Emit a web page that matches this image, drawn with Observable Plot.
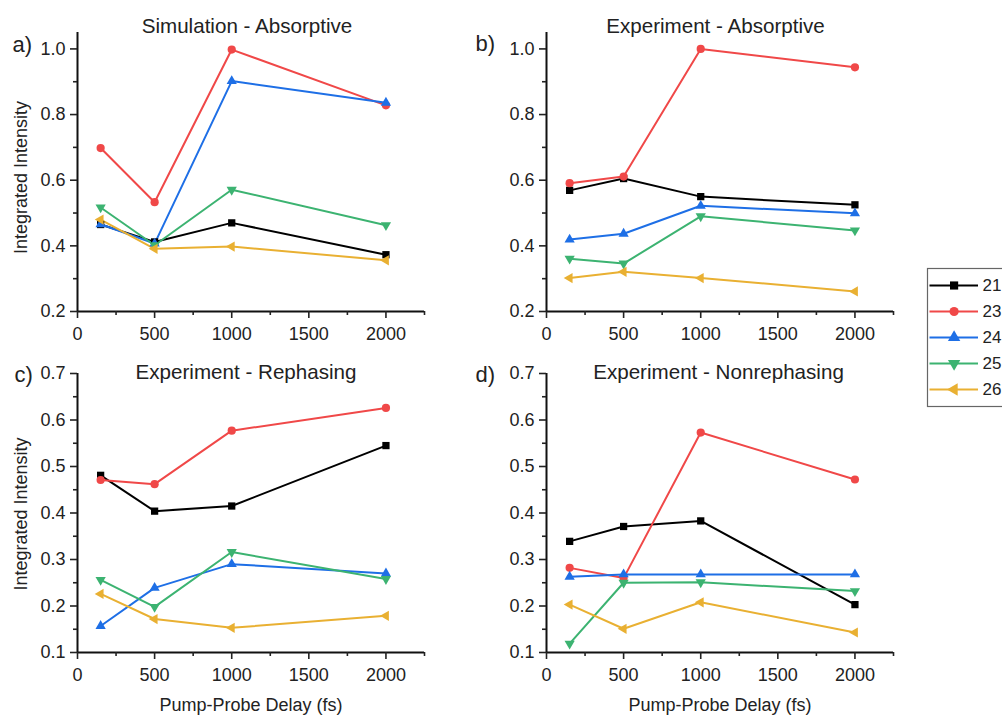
<!DOCTYPE html>
<html>
<head>
<meta charset="utf-8">
<script src="https://cdn.jsdelivr.net/npm/d3@7"></script>
<script src="https://cdn.jsdelivr.net/npm/@observablehq/plot@0.6"></script>
<style>
  html, body { margin: 0; padding: 0; background: #fff; overflow: hidden; }
  #root { position: relative; width: 1002px; height: 715px; overflow: hidden; font-family: "Liberation Sans", Arial, sans-serif; }
  .panel { position: absolute; }
  .panel svg { background: transparent !important; overflow: visible; max-width: none !important; }
</style>
</head>
<body>
<div id="root"></div>
<script>
// ---------- data ----------
const delays = [150, 500, 1000, 2000];
const seriesNames = ["21", "23", "24", "25", "26"];
const seriesColors = ["#000000", "#f04848", "#1e6fe6", "#3cb371", "#e9b032"];
const seriesSymbols = ["square", "circle", "triangle", "triangle", "triangle"];
const seriesRotate = [0, 0, 0, 180, -90];

// a) Simulation - Absorptive
const simAbs21 = [0.465, 0.412, 0.470, 0.373];
const simAbs23 = [0.698, 0.533, 0.998, 0.828];
const simAbs24 = [0.466, 0.407, 0.902, 0.836];
const simAbs25 = [0.517, 0.402, 0.571, 0.463];
const simAbs26 = [0.480, 0.391, 0.398, 0.356];

// b) Experiment - Absorptive
const expAbs21 = [0.569, 0.605, 0.550, 0.525];
const expAbs23 = [0.591, 0.611, 1.000, 0.944];
const expAbs24 = [0.419, 0.437, 0.522, 0.499];
const expAbs25 = [0.361, 0.346, 0.490, 0.447];
const expAbs26 = [0.302, 0.321, 0.302, 0.261];

// c) Experiment - Rephasing
const reph21 = [0.481, 0.404, 0.415, 0.545];
const reph23 = [0.471, 0.462, 0.577, 0.626];
const reph24 = [0.157, 0.239, 0.290, 0.270];
const reph25 = [0.256, 0.198, 0.316, 0.258];
const reph26 = [0.226, 0.172, 0.153, 0.179];

// d) Experiment - Nonrephasing
const nonreph21 = [0.339, 0.371, 0.383, 0.203];
const nonreph23 = [0.282, 0.260, 0.573, 0.472];
const nonreph24 = [0.263, 0.268, 0.268, 0.268];
const nonreph25 = [0.119, 0.250, 0.251, 0.232];
const nonreph26 = [0.203, 0.151, 0.208, 0.143];

// ticks
const xTicks = [0, 500, 1000, 1500, 2000];
const xMinorTicks = [250, 750, 1250, 1750, 2250];
const absTicks = [0.2, 0.4, 0.6, 0.8, 1.0];
const absMinorTicks = [0.3, 0.5, 0.7, 0.9];
const phaseTicks = [0.1, 0.2, 0.3, 0.4, 0.5, 0.6, 0.7];
const phaseMinorTicks = [0.15, 0.25, 0.35, 0.45, 0.55, 0.65];

const yLabel = "Integrated Intensity";
const xLabel = "Pump-Probe Delay (fs)";

// ---------- drawing ----------
const FONT = "Liberation Sans, Arial, sans-serif";
const root = document.getElementById("root");

function drawPanel(cfg) {
  const rows = [];
  cfg.values.forEach((vals, i) =>
    vals.forEach((v, j) => rows.push({series: seriesNames[i], delay: delays[j], value: v}))
  );
  const marks = [
    Plot.line(rows, {x: "delay", y: "value", z: "series", stroke: "series", strokeWidth: 2}),
  ];
  seriesNames.forEach((s, i) => {
    marks.push(Plot.dot(rows.filter(d => d.series === s), {
      x: "delay", y: "value", fill: "series", stroke: "none",
      symbol: () => seriesSymbols[i], rotate: seriesRotate[i],
      r: seriesSymbols[i] === "triangle" ? 3.8 : 4.1
    }));
  });
  marks.push(
    Plot.ruleX([0], {strokeWidth: 2, stroke: "#111"}),
    Plot.ruleY([cfg.yDomain[0]], {strokeWidth: 2, stroke: "#111"}),
    Plot.axisX({ticks: xTicks, tickSize: 7, tickPadding: 9, tickFormat: d => String(d), label: null, strokeWidth: 1.6, fontSize: 18}),
    Plot.axisX({ticks: xMinorTicks, tickSize: 4, tickFormat: () => "", label: null, strokeWidth: 1.6}),
    Plot.axisY({ticks: cfg.yTicks, tickSize: 7, tickPadding: 5, tickFormat: d3.format(".1f"), label: null, strokeWidth: 1.6, fontSize: 18}),
    Plot.axisY({ticks: cfg.yMinor, tickSize: 4, tickFormat: () => "", label: null, strokeWidth: 1.6}),
    Plot.text([cfg.title], {frameAnchor: "top", lineAnchor: "bottom", dx: cfg.titleDx, dy: cfg.titleDy, fontSize: 20.6, fill: "#222"}),
    Plot.text([cfg.letter], {frameAnchor: "top-left", textAnchor: "start", lineAnchor: "bottom", dx: cfg.letterDx, dy: cfg.letterDy, fontSize: 22, fill: "#222"})
  );
  if (cfg.showYLabel) {
    marks.push(Plot.text([yLabel], {frameAnchor: "left", rotate: -90, textAnchor: "middle", lineAnchor: "middle", dx: -56, dy: cfg.yLabelDy, fontSize: 18, fill: "#222"}));
  }
  if (cfg.showXLabel) {
    marks.push(Plot.text([xLabel], {frameAnchor: "bottom", textAnchor: "middle", lineAnchor: "bottom", dx: 0, dy: 58, fontSize: 18, fill: "#222"}));
  }
  const chart = Plot.plot({
    width: 450,
    height: cfg.height,
    marginLeft: cfg.marginLeft,
    marginRight: 450 - cfg.marginLeft - 347,
    marginTop: 32,
    marginBottom: cfg.marginBottom,
    style: {fontFamily: FONT, fontSize: "18px", color: "#222", background: "transparent", overflow: "visible"},
    x: {domain: [0, 2250]},
    y: {domain: cfg.yDomain},
    color: {domain: seriesNames, range: seriesColors},
    marks
  });
  const div = document.createElement("div");
  div.className = "panel";
  div.style.left = cfg.left + "px";
  div.style.top = cfg.top + "px";
  div.style.width = "450px";
  div.appendChild(chart);
  root.appendChild(div);
}

drawPanel({
  values: [simAbs21, simAbs23, simAbs24, simAbs25, simAbs26],
  title: "Simulation - Absorptive", letter: "a)",
  yDomain: [0.2, 1.05], yTicks: absTicks, yMinor: absMinorTicks,
  left: 0, top: 0, height: 340, marginLeft: 77, marginBottom: 29,
  titleDx: -4, titleDy: 0, letterDx: -65, letterDy: 19,
  showYLabel: true, yLabelDy: 5.5, showXLabel: false
});
drawPanel({
  values: [expAbs21, expAbs23, expAbs24, expAbs25, expAbs26],
  title: "Experiment - Absorptive", letter: "b)",
  yDomain: [0.2, 1.05], yTicks: absTicks, yMinor: absMinorTicks,
  left: 468, top: 0, height: 340, marginLeft: 78, marginBottom: 29,
  titleDx: -4.5, titleDy: 0, letterDx: -71, letterDy: 18,
  showYLabel: false, showXLabel: false
});
drawPanel({
  values: [reph21, reph23, reph24, reph25, reph26],
  title: "Experiment - Rephasing", letter: "c)",
  yDomain: [0.1, 0.7], yTicks: phaseTicks, yMinor: phaseMinorTicks,
  left: 0, top: 341, height: 374, marginLeft: 77, marginBottom: 63,
  titleDx: -5, titleDy: 5, letterDx: -63, letterDy: 8.5,
  showYLabel: true, yLabelDy: 1, showXLabel: true
});
drawPanel({
  values: [nonreph21, nonreph23, nonreph24, nonreph25, nonreph26],
  title: "Experiment - Nonrephasing", letter: "d)",
  yDomain: [0.1, 0.7], yTicks: phaseTicks, yMinor: phaseMinorTicks,
  left: 468, top: 341, height: 374, marginLeft: 78, marginBottom: 63,
  titleDx: -1.5, titleDy: 5, letterDx: -71, letterDy: 8.5,
  showYLabel: false, showXLabel: true
});

// ---------- legend ----------
const legend = Plot.plot({
  width: 100, height: 138, margin: 0,
  style: {fontFamily: FONT, fontSize: "16px", color: "#222", background: "transparent", overflow: "visible"},
  y: {type: "point", domain: seriesNames, padding: 0.58, axis: null},
  color: {domain: seriesNames, range: seriesColors},
  marks: [
    Plot.frame({stroke: "#666", strokeWidth: 1.2}),
    Plot.ruleY(seriesNames, {y: d => d, stroke: d => d, strokeWidth: 2, insetLeft: 2.5, insetRight: 49}),
    ...seriesNames.map((s, i) => Plot.dot([s], {
      y: d => d, frameAnchor: "left", dx: 26.6, fill: d => d, stroke: "none",
      symbol: () => seriesSymbols[i], rotate: seriesRotate[i],
      r: 4.6
    })),
    Plot.text(seriesNames, {y: d => d, text: d => d, frameAnchor: "left", dx: 55, textAnchor: "start", fontSize: 17, fill: "#222"})
  ]
});
const ldiv = document.createElement("div");
ldiv.className = "panel";
ldiv.style.left = "926.5px";
ldiv.style.top = "268px";
ldiv.style.width = "100px";
ldiv.appendChild(legend);
root.appendChild(ldiv);
</script>
</body>
</html>
